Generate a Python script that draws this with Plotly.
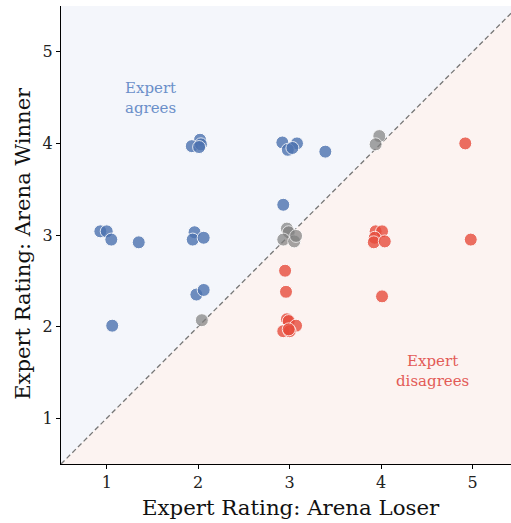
import plotly.graph_objects as go

# Data (x = expert rating of arena loser, y = expert rating of arena winner)
agree_x = [2.02, 1.93, 2.03, 2.01, 0.93, 1.00, 1.05, 1.35, 1.96, 1.94, 2.06,
           2.92, 3.08, 2.98, 3.03, 3.39, 2.93, 1.06, 1.98, 2.06]
agree_y = [4.04, 3.97, 3.99, 3.96, 3.04, 3.04, 2.95, 2.92, 3.03, 2.95, 2.97,
           4.01, 4.00, 3.93, 3.95, 3.91, 3.33, 2.01, 2.35, 2.40]

tie_x = [3.98, 3.94, 2.97, 2.99, 2.93, 3.05, 3.07, 2.04]
tie_y = [4.08, 3.99, 3.07, 3.03, 2.95, 2.93, 2.99, 2.07]

disagree_x = [4.92, 3.94, 4.01, 3.93, 3.92, 4.04, 4.98, 2.95, 2.96, 4.01,
              2.97, 2.99, 3.07, 2.93, 3.00, 2.99]
disagree_y = [4.00, 3.04, 3.04, 2.97, 2.92, 2.93, 2.95, 2.61, 2.38, 2.33,
              2.08, 2.06, 2.01, 1.95, 1.95, 1.97]

x_range = [0.5, 5.42]
y_range = [0.5, 5.5]
ticks = [1, 2, 3, 4, 5]

FONT = "DejaVu Serif"

fig = go.Figure()

# background regions
fig.add_trace(go.Scatter(x=[y_range[0], y_range[0], y_range[1], y_range[0]],
                         y=[y_range[0], y_range[1], y_range[1], y_range[0]],
                         fill="toself", fillcolor="#f4f6fb", line=dict(width=0),
                         mode="lines", hoverinfo="skip", showlegend=False))
fig.add_trace(go.Scatter(x=[y_range[0], y_range[1], y_range[1], y_range[0]],
                         y=[y_range[0], y_range[0], y_range[1], y_range[0]],
                         fill="toself", fillcolor="#fcf3f1", line=dict(width=0),
                         mode="lines", hoverinfo="skip", showlegend=False))

# diagonal
fig.add_trace(go.Scatter(x=[y_range[0], y_range[1]], y=[y_range[0], y_range[1]],
                         mode="lines", line=dict(color="#777777", width=1.3, dash="5px,3px"),
                         hoverinfo="skip", showlegend=False))

marker_common = dict(size=13, line=dict(color="white", width=1))
fig.add_trace(go.Scatter(x=agree_x, y=agree_y, mode="markers", showlegend=False,
                         marker=dict(color="#4c72b0", opacity=0.8, **marker_common)))
fig.add_trace(go.Scatter(x=tie_x, y=tie_y, mode="markers", showlegend=False,
                         marker=dict(color="#7f7f7f", opacity=0.7, **marker_common)))
fig.add_trace(go.Scatter(x=disagree_x, y=disagree_y, mode="markers", showlegend=False,
                         marker=dict(color="#e74c3c", opacity=0.8, **marker_common)))

fig.add_annotation(x=1.48, y=4.5, text="Expert<br>agrees", showarrow=False,
                   font=dict(family=FONT, size=15, color="#6b8fc9"))
fig.add_annotation(x=4.56, y=1.51, text="Expert<br>disagrees", showarrow=False,
                   font=dict(family=FONT, size=15, color="#e35b57"))

# axis titles
fig.add_annotation(xref="paper", yref="paper", x=0.51, y=-0.094, yanchor="middle",
                   text="Expert Rating: Arena Loser", showarrow=False,
                   font=dict(family=FONT, size=21.3, color="#111"))
fig.add_annotation(xref="paper", yref="paper", x=-0.087, y=0.4825, xanchor="center",
                   yanchor="middle", textangle=-90,
                   text="Expert Rating: Arena Winner", showarrow=False,
                   font=dict(family=FONT, size=21.1, color="#111"))

axis_common = dict(tickvals=ticks, showgrid=True, gridcolor="#e8e8ec", gridwidth=1,
                   zeroline=False, showline=True, linecolor="black", linewidth=1.2,
                   ticks="outside", ticklen=4, tickcolor="black", automargin=False,
                   tickfont=dict(family=FONT, size=16, color="#222"))

fig.update_xaxes(range=x_range, **axis_common)
fig.update_yaxes(range=y_range, **axis_common)

fig.update_layout(width=511, height=523, margin=dict(l=61, r=0, t=6, b=59),
                  plot_bgcolor="white", paper_bgcolor="white",
                  font=dict(family=FONT))

fig.write_html("out.html", config={"displayModeBar": False},
               post_script="document.body.style.margin='0';document.body.style.padding='0';")
